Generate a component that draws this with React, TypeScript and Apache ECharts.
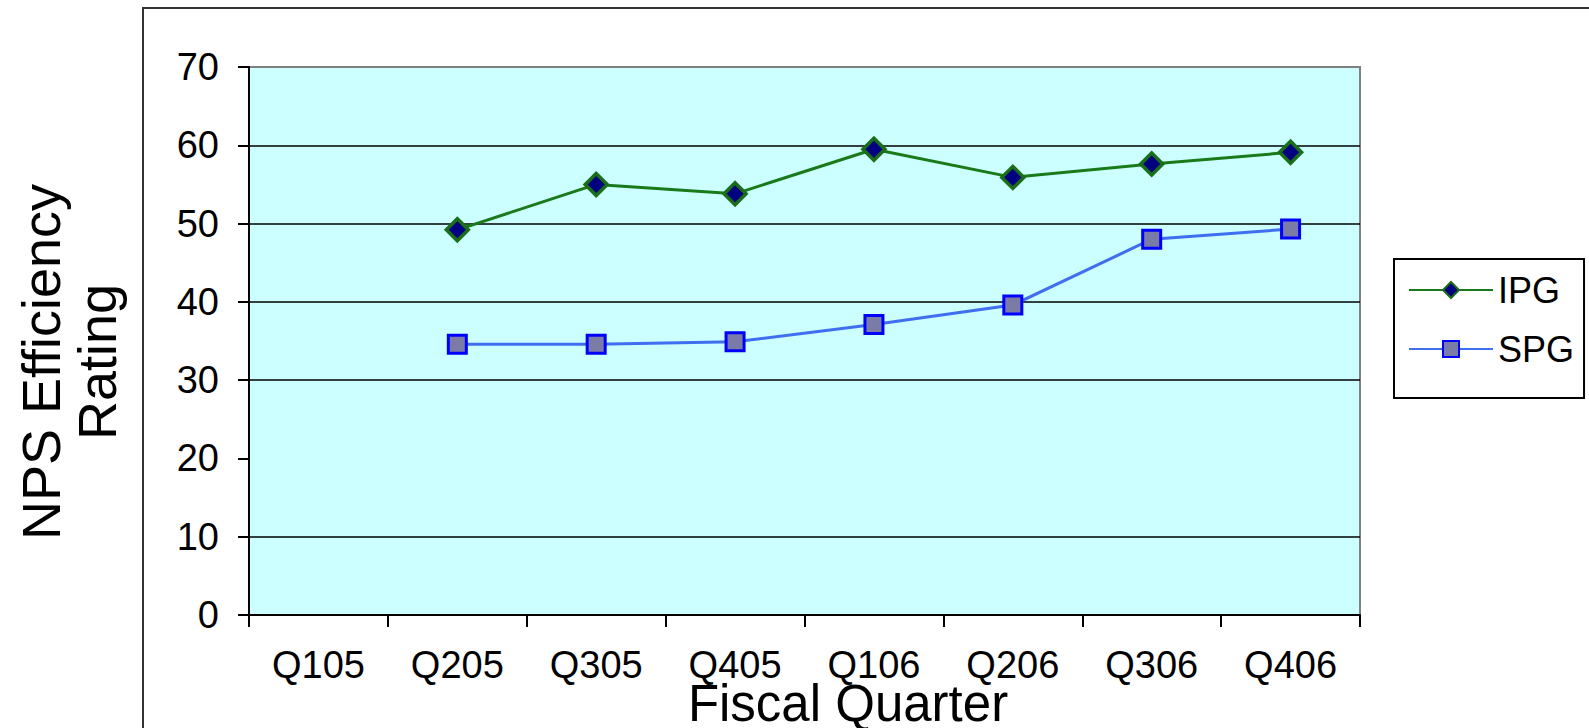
import React, { useEffect, useRef } from "react";
import * as echarts from "echarts";

const categories = ["Q105", "Q205", "Q305", "Q405", "Q106", "Q206", "Q306", "Q406"];
const ipgValues = [null, 49.2, 55.0, 53.8, 59.5, 55.9, 57.6, 59.1];
const spgValues = [null, 34.6, 34.6, 34.9, 37.1, 39.6, 48.0, 49.3];
const yMin = 0;
const yMax = 70;
const yInterval = 10;
const gridLineValues = [10, 30, 40, 50, 60];
const xTitle = "Fiscal Quarter";
const yTitle = "NPS Efficiency\nRating";

const FONT = "'Liberation Sans', Arial, sans-serif";

export default function App() {
  const ref = useRef<HTMLDivElement>(null);
  useEffect(() => {
    document.body.style.margin = "0";
    const chart = echarts.init(ref.current!, null, { renderer: "svg" });
    chart.setOption({
      animation: false,
      backgroundColor: "#ffffff",
      textStyle: { fontFamily: FONT },
      grid: {
        left: 249,
        top: 67,
        right: 229,
        bottom: 113,
        show: true,
        backgroundColor: "#CCFFFF",
        borderColor: "#808080",
        borderWidth: 2,
      },
      legend: {
        left: 1394,
        top: 259,
        orient: "vertical",
        backgroundColor: "#ffffff",
        borderColor: "#000000",
        borderWidth: 2,
        borderRadius: 0,
        padding: [13, 10, 31, 14],
        itemWidth: 84,
        itemHeight: 20,
        itemGap: 23,
        textStyle: { fontSize: 36, color: "#000", fontFamily: FONT, lineHeight: 34 },
        data: ["IPG", "SPG"],
      },
      xAxis: {
        type: "category",
        data: categories,
        boundaryGap: true,
        axisLine: { show: true, lineStyle: { color: "#000", width: 2 } },
        axisTick: { show: true, alignWithLabel: false, length: 12, lineStyle: { color: "#000", width: 2 } },
        axisLabel: { fontSize: 38, color: "#000", margin: 31, fontFamily: FONT },
        splitLine: { show: false },
      },
      yAxis: {
        type: "value",
        min: yMin,
        max: yMax,
        interval: yInterval,
        axisLine: { show: true, lineStyle: { color: "#000", width: 2 } },
        axisTick: { show: true, inside: false, length: 11, lineStyle: { color: "#000", width: 2 } },
        axisLabel: { fontSize: 38, color: "#000", margin: 30, fontFamily: FONT },
        splitLine: { show: false },
      },
      series: [
        {
          name: "IPG",
          type: "line",
          data: ipgValues,
          symbol: "diamond",
          symbolSize: 22,
          lineStyle: { color: "#1A7A1A", width: 3 },
          itemStyle: { color: "#000080", borderColor: "#1A6E1A", borderWidth: 3.5 },
          z: 3,
          markLine: {
            silent: true,
            symbol: "none",
            label: { show: false },
            lineStyle: { color: "#000000", width: 1.5, type: "solid" },
            data: gridLineValues.map((v) => ({ yAxis: v })),
            z: 1,
          },
        },
        {
          name: "SPG",
          type: "line",
          data: spgValues,
          symbol: "rect",
          symbolSize: 18,
          lineStyle: { color: "#3F6FEF", width: 3 },
          itemStyle: { color: "#7B7BA8", borderColor: "#0000FF", borderWidth: 3 },
          z: 2,
        },
      ],
      graphic: [
        {
          type: "rect",
          shape: { x: 143, y: 8, width: 1600, height: 900 },
          style: { fill: "none", stroke: "#333333", lineWidth: 2 },
          silent: true,
          z: -1,
        },
        {
          type: "text",
          x: 848,
          y: 703,
          style: {
            text: xTitle,
            font: `51px ${FONT}`,
            fill: "#000",
            textAlign: "center",
            textVerticalAlign: "middle",
          },
        },
        {
          type: "text",
          x: 69,
          y: 362,
          rotation: Math.PI / 2,
          style: {
            text: yTitle,
            font: `54px ${FONT}`,
            lineHeight: 56,
            fill: "#000",
            textAlign: "center",
            textVerticalAlign: "middle",
          },
        },
      ],
    });
    return () => chart.dispose();
  }, []);
  return <div ref={ref} style={{ width: 1589, height: 728 }} />;
}
